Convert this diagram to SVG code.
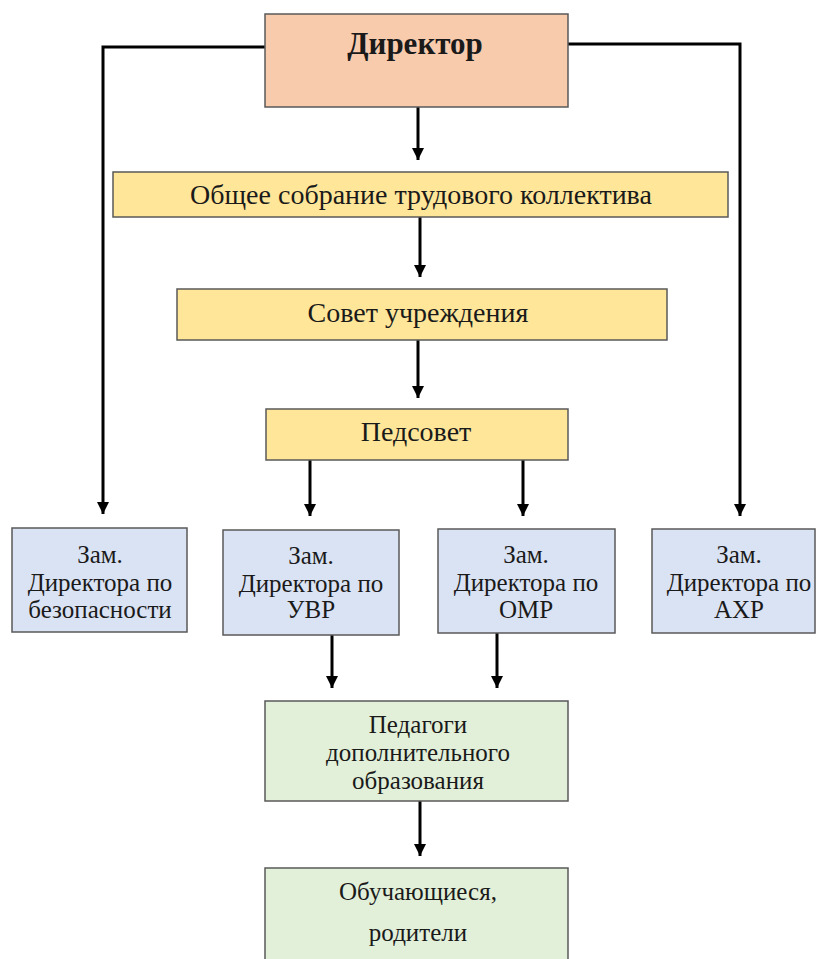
<svg xmlns="http://www.w3.org/2000/svg" width="817" height="959" viewBox="0 0 817 959">
<style>
.box{stroke:#595959;stroke-width:1.5}
.dir{fill:#F8CBAD}
.yel{fill:#FFE699}
.blu{fill:#DAE3F3}
.grn{fill:#E2F0D9}
text{font-family:"Liberation Serif","Times New Roman",serif;fill:#1a1a1a;text-anchor:middle}
.t25{font-size:25px}
.t28{font-size:28px}
.conn{stroke:#000;stroke-width:3;fill:none}
</style>
<defs>
<marker id="ah" markerUnits="userSpaceOnUse" markerWidth="12" markerHeight="14" viewBox="0 0 12 14" refX="12" refY="6" orient="auto">
<path d="M0,0 L12,6 L0,12 Z" fill="#000"/>
</marker>
</defs>
<g id="connectors">
<path class="conn" d="M265,47 H103 V514" marker-end="url(#ah)"/>
<path class="conn" d="M568,44 H740 V516" marker-end="url(#ah)"/>
<path class="conn" d="M418,107 V160" marker-end="url(#ah)"/>
<path class="conn" d="M420,217 V277" marker-end="url(#ah)"/>
<path class="conn" d="M418,340 V398" marker-end="url(#ah)"/>
<path class="conn" d="M310,460 V516" marker-end="url(#ah)"/>
<path class="conn" d="M523,460 V516" marker-end="url(#ah)"/>
<path class="conn" d="M332,635 V688" marker-end="url(#ah)"/>
<path class="conn" d="M497,633 V688" marker-end="url(#ah)"/>
<path class="conn" d="M420,801 V856" marker-end="url(#ah)"/>
</g>
<g id="director">
<rect class="box dir" x="265" y="14" width="303" height="93"/>
<text x="415" y="54" style="font-size:31px;font-weight:bold">Директор</text>
</g>
<g id="obshchee">
<rect class="box yel" x="113" y="172" width="615" height="45"/>
<text class="t28" x="421" y="204">Общее собрание трудового коллектива</text>
</g>
<g id="sovet">
<rect class="box yel" x="177" y="289" width="490" height="51"/>
<text class="t28" x="418" y="322">Совет учреждения</text>
</g>
<g id="pedsovet">
<rect class="box yel" x="266" y="409" width="302" height="51"/>
<text class="t28" x="416" y="441">Педсовет</text>
</g>
<g id="zam-bez">
<rect class="box blu" x="12" y="528" width="175" height="104"/>
<text class="t25" x="100" y="563">Зам.</text>
<text class="t25" x="100" y="591">Директора по</text>
<text class="t25" x="100" y="618">безопасности</text>
</g>
<g id="zam-uvr">
<rect class="box blu" x="223" y="530" width="176" height="105"/>
<text class="t25" x="311" y="564">Зам.</text>
<text class="t25" x="311" y="592">Директора по</text>
<text class="t25" x="311" y="618">УВР</text>
</g>
<g id="zam-omr">
<rect class="box blu" x="438" y="529" width="177" height="104"/>
<text class="t25" x="526" y="563">Зам.</text>
<text class="t25" x="526" y="591">Директора по</text>
<text class="t25" x="526" y="618">ОМР</text>
</g>
<g id="zam-ahr">
<rect class="box blu" x="652" y="529" width="163" height="104"/>
<text class="t25" x="739" y="563">Зам.</text>
<text class="t25" x="739" y="591">Директора по</text>
<text class="t25" x="739" y="618">АХР</text>
</g>
<g id="pedagogi">
<rect class="box grn" x="265" y="701" width="303" height="100"/>
<text class="t25" x="418" y="733">Педагоги</text>
<text class="t25" x="418" y="761">дополнительного</text>
<text class="t25" x="418" y="789">образования</text>
</g>
<g id="obuch">
<rect class="box grn" x="265" y="868" width="303" height="100"/>
<text class="t25" x="418" y="900">Обучающиеся,</text>
<text class="t25" x="418" y="941">родители</text>
</g>
</svg>
